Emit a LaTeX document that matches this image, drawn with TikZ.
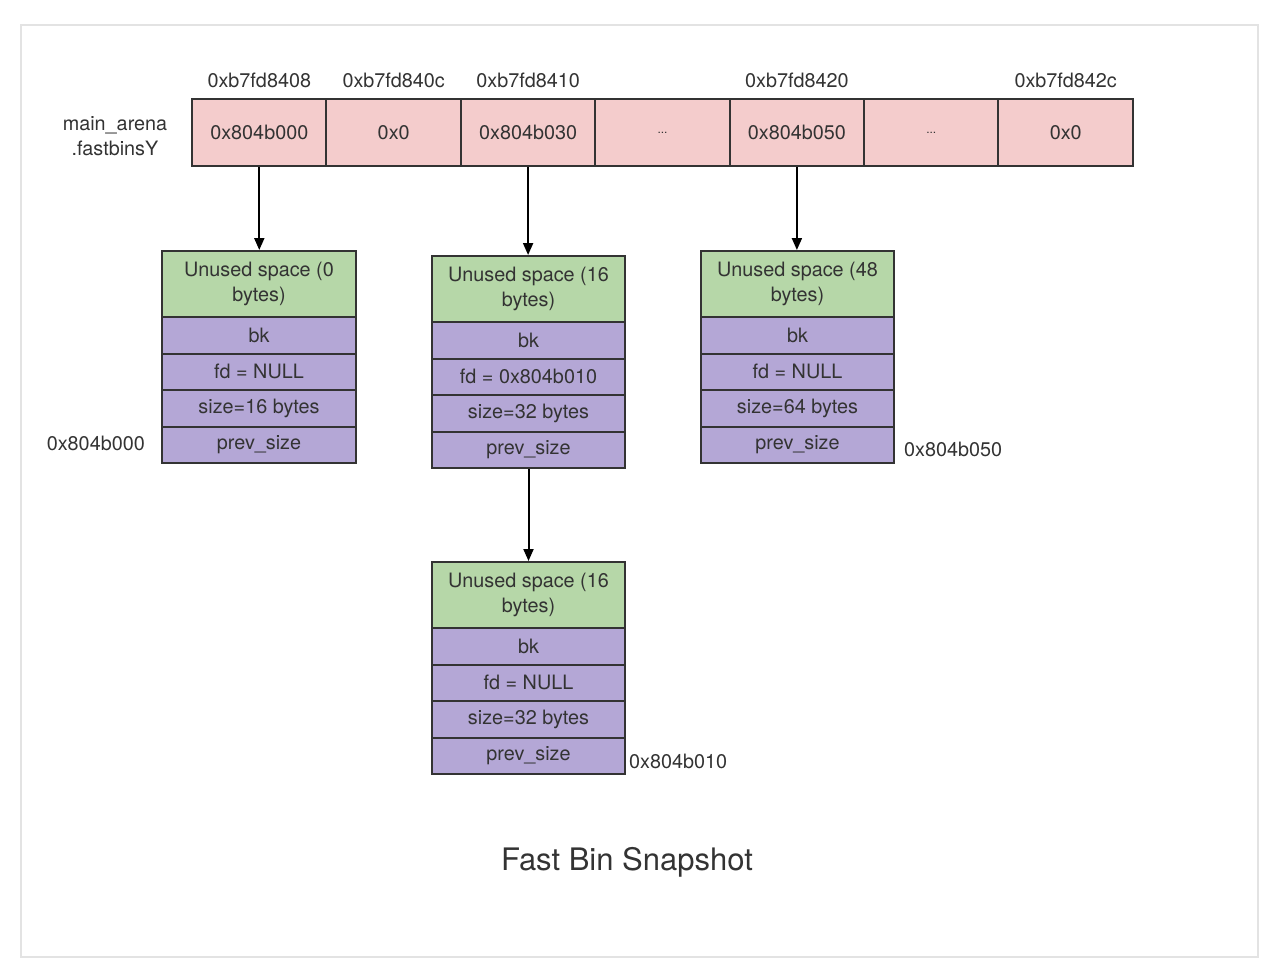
\documentclass[tikz,border=0pt]{standalone}
\usepackage{fontspec}
\setmainfont{TeX Gyre Heros}
\usetikzlibrary{arrows.meta}
\definecolor{cpink}{HTML}{F4CCCC}
\definecolor{cgreen}{HTML}{B6D7A8}
\definecolor{cpurple}{HTML}{B4A7D6}
\definecolor{cborder}{HTML}{333333}
\definecolor{ctext}{HTML}{333333}
\definecolor{cframe}{HTML}{E3E3E3}
\tikzset{
  cellbox/.style={draw=cborder,line width=2pt,fill=cpink,minimum width=134.6pt,minimum height=67pt,anchor=north west,inner sep=0pt,font=\fontsize{19.8}{22}\selectfont,text=ctext},
  greenbox/.style={draw=cborder,line width=2pt,fill=cgreen,minimum height=66pt,anchor=north west,inner sep=0pt,align=center,font=\fontsize{19.8}{25}\selectfont,text=ctext},
  purplebox/.style={draw=cborder,line width=2pt,fill=cpurple,minimum height=36.5pt,anchor=north west,inner sep=0pt,font=\fontsize{19.8}{22}\selectfont,text=ctext},
  lbl/.style={font=\fontsize{19.8}{25}\selectfont,text=ctext,inner sep=0pt},
  arr/.style={line width=2pt,-{Triangle[length=12pt,width=10pt]},draw=black}
}
\newcommand{\mkchunk}[7]{%
  \node[greenbox,minimum width=#4] (#1g) at (#2,#3) {#5\\bytes)};
  \node[purplebox,minimum width=#4] (#1bk) at (#2,#3+66) {bk};
  \node[purplebox,minimum width=#4] (#1fd) at (#2,#3+102.5) {#6};
  \node[purplebox,minimum width=#4] (#1sz) at (#2,#3+139) {#7};
  \node[purplebox,minimum width=#4] (#1ps) at (#2,#3+175.5) {prev\_size};
}
\newcommand{\dotsfill}{{\fontsize{12}{14}\selectfont ...}}
\begin{document}
\begin{tikzpicture}[x=1pt,y=-1pt]
\useasboundingbox (0,0) rectangle (1278,978);
\draw[cframe,line width=2pt] (21,25) rectangle (1258,957);
% array
\node[cellbox] (b0) at (191,98) {0x804b000};
\node[cellbox] (b1) at (325.4,98) {0x0};
\node[cellbox] (b2) at (459.8,98) {0x804b030};
\node[cellbox] (b3) at (594.2,98) {\dotsfill};
\node[cellbox] (b4) at (728.6,98) {0x804b050};
\node[cellbox] (b5) at (863,98) {\dotsfill};
\node[cellbox] (b6) at (997.4,98) {0x0};
\node[lbl] (a0) at (b0.center |- 0,80) {0xb7fd8408};
\node[lbl] (a1) at (b1.center |- 0,80) {0xb7fd840c};
\node[lbl] (a2) at (b2.center |- 0,80) {0xb7fd8410};
\node[lbl] (a4) at (b4.center |- 0,80) {0xb7fd8420};
\node[lbl] (a6) at (b6.center |- 0,80) {0xb7fd842c};
\node[lbl,align=center] (arena) at (115,136) {main\_arena\\.fastbinsY};
% chunks
\mkchunk{c1}{161}{250}{194pt}{Unused space (0}{fd = NULL}{size=16 bytes}
\mkchunk{c2}{431}{255}{193pt}{Unused space (16}{fd = 0x804b010}{size=32 bytes}
\mkchunk{c3}{700}{250}{193pt}{Unused space (48}{fd = NULL}{size=64 bytes}
\mkchunk{c4}{431}{561}{193pt}{Unused space (16}{fd = NULL}{size=32 bytes}
% arrows
\draw[arr] (b0.south) -- (b0.south |- c1g.north);
\draw[arr] (b2.south) -- (b2.south |- c2g.north);
\draw[arr] (b4.south) -- (b4.south |- c3g.north);
\draw[arr] (c2ps.south) -- (c2ps.south |- c4g.north);
% address labels
\node[lbl,anchor=east] (l1) at (145,443) {0x804b000};
\node[lbl,anchor=west] (l3) at (904,449) {0x804b050};
\node[lbl,anchor=west] (l4) at (629,761) {0x804b010};
% title
\node[font=\fontsize{31}{34}\selectfont,text=ctext] (title) at (627,862) {Fast Bin Snapshot};
\end{tikzpicture}
\end{document}
